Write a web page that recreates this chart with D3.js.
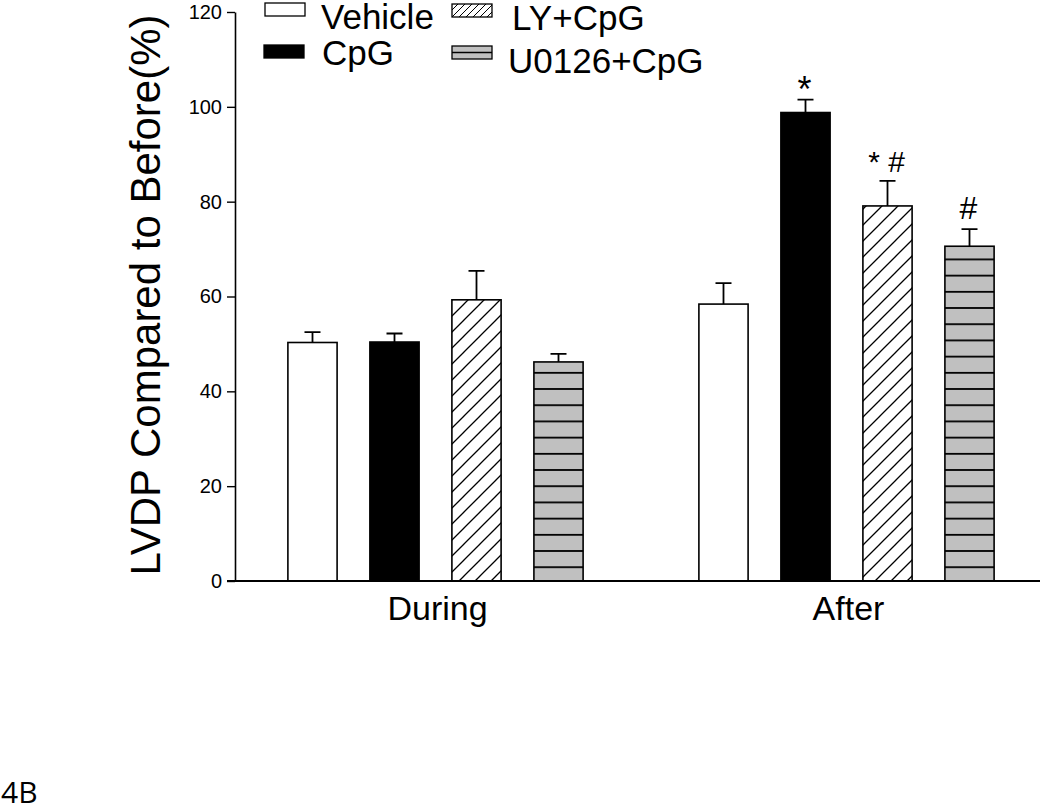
<!DOCTYPE html>
<html>
<head>
<meta charset="utf-8">
<script src="https://cdn.jsdelivr.net/npm/d3@7"></script>
<style>
  body { margin: 0; background: #fff; }
  svg { display: block; font-family: "Liberation Sans", Arial, sans-serif; }
</style>
</head>
<body>
<svg width="1050" height="810"></svg>
<script>
// groups along the x axis, one bar per treatment inside each group
const groups = ['During', 'After'];
const series = ['Vehicle', 'CpG', 'LY+CpG', 'U0126+CpG'];

// means (%), one array per group, same order as series
const duringMeans = [50.3, 50.4, 59.3, 46.2];
const afterMeans  = [58.4, 98.8, 79.1, 70.6];
// upper error (SEM) for each bar
const duringErr = [2.2, 1.8, 6.1, 1.7];
const afterErr  = [4.4, 2.7, 5.3, 3.6];
// significance marks over the After bars
const afterMarks = ['', '*', '* #', '#'];

const yTicks = [0, 20, 40, 60, 80, 100, 120];

const data = [];
groups.forEach((g, gi) => {
    const means = gi === 0 ? duringMeans : afterMeans;
    const errs = gi === 0 ? duringErr : afterErr;
    series.forEach((s, si) => {
        data.push({group: g, series: s, value: means[si], err: errs[si],
                   mark: gi === 1 ? afterMarks[si] : ''});
    });
});

const svg = d3.select('svg');

const y = d3.scaleLinear().domain([0, 120]).range([581, 12]);
const x0 = d3.scaleBand().domain(groups).range([230, 1052]);
const x1 = d3.scaleBand().domain(series).range([0, x0.bandwidth()])
    .paddingInner(0.4).paddingOuter(0.706);

// fill patterns
const defs = svg.append('defs');
const hatch = defs.append('pattern')
    .attr('id', 'hatch')
    .attr('patternUnits', 'userSpaceOnUse')
    .attr('width', 16).attr('height', 16);
hatch.append('rect').attr('width', 16).attr('height', 16).attr('fill', '#fff');
hatch.append('path')
    .attr('d', 'M-4,4 L4,-4 M0,16 L16,0 M12,20 L20,12')
    .attr('stroke', '#000').attr('stroke-width', 1.3);

const hatchSmall = defs.append('pattern')
    .attr('id', 'hatchSmall')
    .attr('patternUnits', 'userSpaceOnUse')
    .attr('width', 7).attr('height', 7);
hatchSmall.append('rect').attr('width', 7).attr('height', 7).attr('fill', '#fff');
hatchSmall.append('path')
    .attr('d', 'M-2,2 L2,-2 M0,7 L7,0 M5,9 L9,5')
    .attr('stroke', '#000').attr('stroke-width', 1);

const stripe = defs.append('pattern')
    .attr('id', 'stripe')
    .attr('patternUnits', 'userSpaceOnUse')
    .attr('y', 566.3)
    .attr('width', 20).attr('height', 16.2);
stripe.append('rect').attr('width', 20).attr('height', 16.2).attr('fill', '#c0c0c0');
stripe.append('rect').attr('y', 0).attr('width', 20).attr('height', 1.8).attr('fill', '#000');

const fills = {
    'Vehicle': '#fff',
    'CpG': '#000',
    'LY+CpG': 'url(#hatch)',
    'U0126+CpG': 'url(#stripe)'
};

// bars
svg.selectAll('rect.bar')
    .data(data)
    .enter()
    .append('rect')
    .attr('class', 'bar')
    .attr('x', d => x0(d.group) + x1(d.series))
    .attr('y', d => y(d.value))
    .attr('width', x1.bandwidth())
    .attr('height', d => y(0) - y(d.value))
    .attr('fill', d => fills[d.series])
    .attr('stroke', '#000')
    .attr('stroke-width', 1.6);

// error bars, upper half only
const cx = d => x0(d.group) + x1(d.series) + x1.bandwidth() / 2;
svg.selectAll('path.err')
    .data(data)
    .enter()
    .append('path')
    .attr('class', 'err')
    .attr('d', d => {
        const top = y(d.value + d.err);
        return 'M' + cx(d) + ',' + y(d.value) + 'V' + top +
               'M' + (cx(d) - 8) + ',' + top + 'H' + (cx(d) + 8);
    })
    .attr('fill', 'none')
    .attr('stroke', '#000')
    .attr('stroke-width', 1.8);

// significance marks (size and lift differ a little per mark)
const markStyle = {
    '*':   {size: 36, lift: -2},
    '* #': {size: 30, lift: 9},
    '#':   {size: 32, lift: 10}
};
svg.selectAll('text.mark')
    .data(data.filter(d => d.mark))
    .enter()
    .append('text')
    .attr('class', 'mark')
    .attr('x', d => cx(d) - 1)
    .attr('y', d => y(d.value + d.err) - markStyle[d.mark].lift)
    .attr('text-anchor', 'middle')
    .style('font-size', d => markStyle[d.mark].size + 'px')
    .text(d => d.mark);

// y axis
const yAxis = svg.append('g')
    .attr('transform', 'translate(235,0)')
    .call(d3.axisLeft(y).tickValues(yTicks).tickSize(8).tickSizeOuter(0).tickPadding(5));
yAxis.attr('font-size', 20).attr('font-family', '"Liberation Sans", Arial, sans-serif');
yAxis.select('.domain').attr('stroke-width', 1.6);
yAxis.selectAll('.tick line').attr('stroke-width', 1.4);
yAxis.selectAll('.tick text')
    .style('font-size', '20px')
    .attr('fill', '#000');

// x axis: a plain line with the group names under it
const xAxis = svg.append('g')
    .attr('transform', 'translate(0,581)')
    .call(d3.axisBottom(x0).tickSize(0).tickPadding(15));
xAxis.select('.domain').remove();
xAxis.selectAll('.tick text')
    .attr('dx', 2)
    .style('font-size', '34px')
    .style('font-family', '"Liberation Sans", Arial, sans-serif')
    .attr('fill', '#000');
svg.append('line')
    .attr('x1', 227).attr('x2', 1040)
    .attr('y1', 581).attr('y2', 581)
    .attr('stroke', '#000')
    .attr('stroke-width', 2);

// y axis title
svg.append('text')
    .attr('transform', 'translate(160,295) rotate(-90)')
    .attr('text-anchor', 'middle')
    .style('font-size', '42px')
    .text('LVDP Compared to Before(%)');

// legend, two columns
const legendSwatch = {
    'Vehicle': '#fff',
    'CpG': '#000',
    'LY+CpG': 'url(#hatchSmall)',
    'U0126+CpG': '#c0c0c0'
};
const legendPos = [
    {sx: 265, sy: 3, tx: 321, ty: 29},
    {sx: 264, sy: 45, tx: 322, ty: 65},
    {sx: 452, sy: 4, tx: 512, ty: 30},
    {sx: 452, sy: 46, tx: 508, ty: 73}
];
const legend = svg.append('g');
series.forEach((s, i) => {
    const p = legendPos[i];
    legend.append('rect')
        .attr('x', p.sx).attr('y', p.sy)
        .attr('width', 40).attr('height', 13)
        .attr('fill', legendSwatch[s])
        .attr('stroke', '#000').attr('stroke-width', 1.3);
    if (s === 'U0126+CpG') {
        legend.append('line')
            .attr('x1', p.sx).attr('x2', p.sx + 40)
            .attr('y1', p.sy + 6.5).attr('y2', p.sy + 6.5)
            .attr('stroke', '#000').attr('stroke-width', 1.6);
    }
    legend.append('text')
        .attr('x', p.tx).attr('y', p.ty)
        .style('font-size', '35px')
        .text(s);
});

// panel label
svg.append('text')
    .attr('x', 1).attr('y', 803)
    .style('font-family', '"Open Sans", Lato, sans-serif')
    .style('font-size', '30px')
    .text('4B');
</script>
</body>
</html>
